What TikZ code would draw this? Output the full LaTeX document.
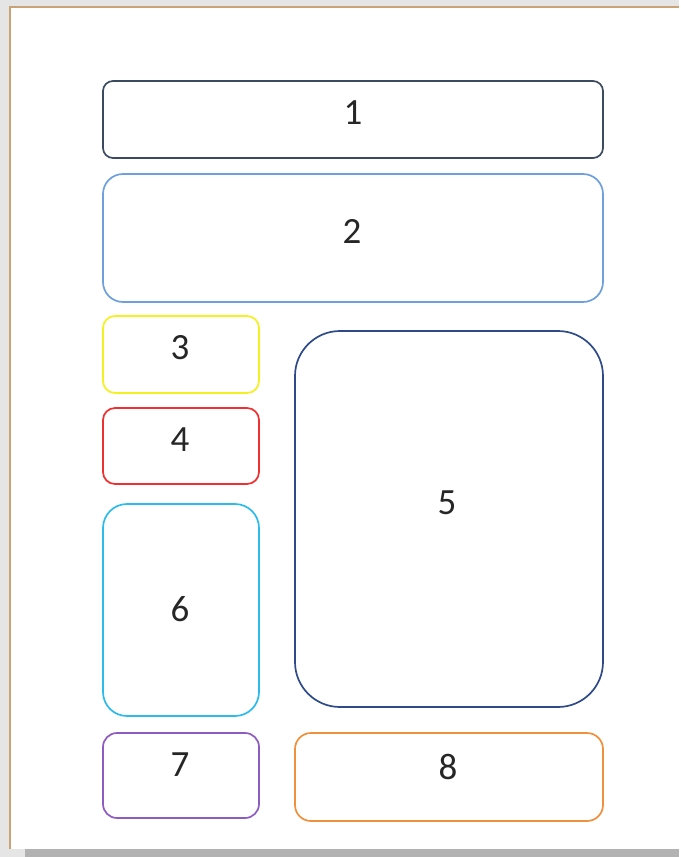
\documentclass[tikz,border=0pt]{standalone}
\usepackage{fontspec}
\setmainfont{Carlito}
\usetikzlibrary{positioning}

\definecolor{slateline}{HTML}{3B4A5E}
\definecolor{skyline}{HTML}{6FA0DE}
\definecolor{yellowline}{HTML}{F5F020}
\definecolor{redline}{HTML}{F03030}
\definecolor{navyline}{HTML}{2F4A88}
\definecolor{cyanline}{HTML}{2CBCEB}
\definecolor{purpleline}{HTML}{8E5CC0}
\definecolor{orangeline}{HTML}{F0903C}
\definecolor{pageedge}{HTML}{C9A373}

\begin{document}
\begin{tikzpicture}[
    x=1pt, y=-1pt,
    panel/.style={
        rectangle,
        draw=#1,
        line width=1.7pt,
        fill=white,
        inner sep=0pt
    },
    tag/.style={
        font=\fontsize{37}{42}\selectfont,
        text=black!85,
        inner sep=0pt
    }
]

% page and backdrop
\fill[black!10] (0,0) rectangle (679,857);
\fill[black!30] (25,849) rectangle (679,857);
\fill[white] (10,7) rectangle (679,849);
\draw[pageedge, line width=2.6pt] (10,849) -- (10,7) -- (679,7);

% layout panels
\node[panel=slateline, rounded corners=10pt, minimum width=500pt, minimum height=77pt] (p1) at (353,119.5) {};
\node[panel=skyline, rounded corners=20pt, minimum width=500pt, minimum height=128pt] (p2) at (353,238) {};
\node[panel=yellowline, rounded corners=12pt, minimum width=156pt, minimum height=77pt] (p3) at (181,354.5) {};
\node[panel=redline, rounded corners=12pt, minimum width=156pt, minimum height=76pt] (p4) at (181,446) {};
\node[panel=navyline, rounded corners=45pt, minimum width=308pt, minimum height=376pt] (p5) at (449,519) {};
\node[panel=cyanline, rounded corners=24pt, minimum width=156pt, minimum height=212pt] (p6) at (181,610) {};
\node[panel=purpleline, rounded corners=14pt, minimum width=156pt, minimum height=85pt] (p7) at (181,775.5) {};
\node[panel=orangeline, rounded corners=16pt, minimum width=308pt, minimum height=88pt] (p8) at (449,777) {};

% numbers
\node[tag] (t1) at (353,113) {1};
\node[tag] (t2) at (352,231) {2};
\node[tag] (t3) at (180,348) {3};
\node[tag] (t4) at (180,440) {4};
\node[tag] (t5) at (447,503) {5};
\node[tag] (t6) at (180,609) {6};
\node[tag] (t7) at (180,765) {7};
\node[tag] (t8) at (448,767) {8};

\end{tikzpicture}
\end{document}
